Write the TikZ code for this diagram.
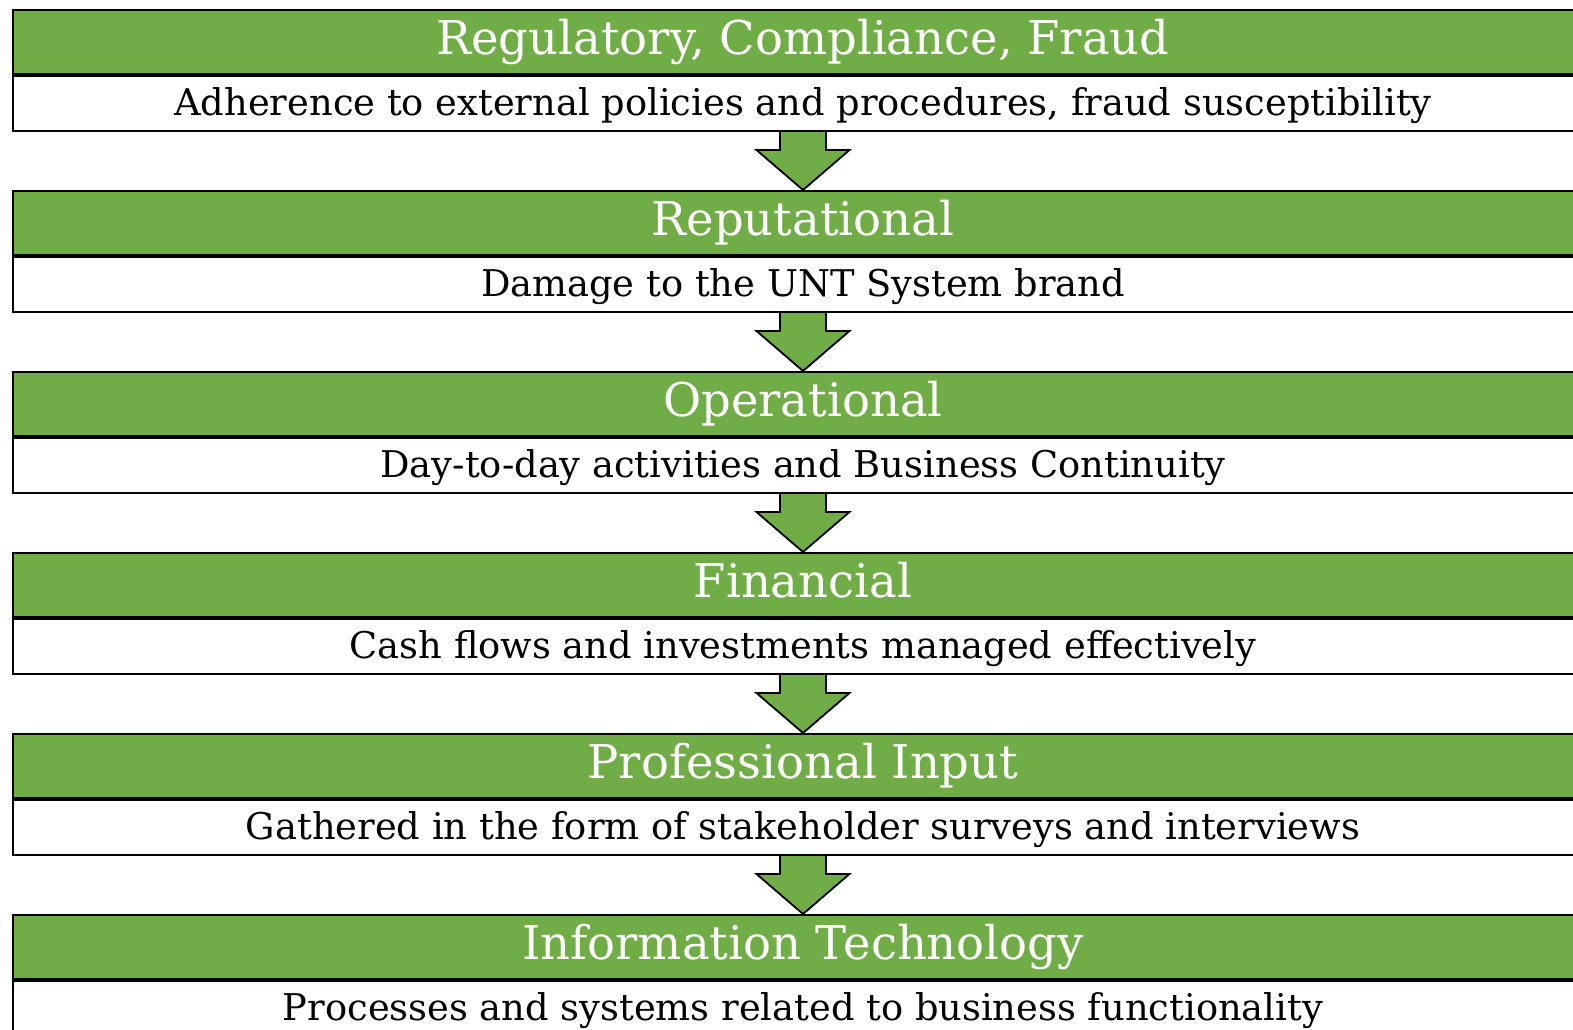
\documentclass[tikz,border=0pt]{standalone}
\usepackage{fontspec}
\setmainfont{DejaVu Serif}
\usetikzlibrary{calc,backgrounds}
\definecolor{hdrgreen}{RGB}{112,173,71}
\begin{document}
\begin{tikzpicture}[x=1pt,y=1pt,
  hdr/.style={draw=black, line width=2pt, fill=hdrgreen, minimum width=1580pt, minimum height=64pt,
    inner sep=0pt, text=white, font=\fontsize{46.5}{46.5}\selectfont, text height=33pt, text depth=9pt, anchor=north},
  body/.style={draw=black, line width=2pt, fill=white, minimum width=1580pt, minimum height=55pt,
    inner sep=0pt, text=black, font=\fontsize{36.8}{36.8}\selectfont, text height=30pt, text depth=7pt, anchor=north},
  flow/.style={draw=black, line width=1.8pt, fill=hdrgreen, line join=miter}]
\useasboundingbox (0,0) rectangle (1573,-1029);
\clip (0,0) rectangle (1573,-1029);
\foreach \i/\h/\b in {0/{Regulatory, Compliance, Fraud}/{Adherence to external policies and procedures, fraud susceptibility},
                      1/{Reputational}/{Damage to the UNT System brand},
                      2/{Operational}/{Day-to-day activities and Business Continuity},
                      3/{Financial}/{Cash flows and investments managed effectively},
                      4/{Professional Input}/{Gathered in the form of stakeholder surveys and interviews},
                      5/{Information Technology}/{Processes and systems related to business functionality}} {
  \node[hdr] (h\i) at (803,{-9-181*\i}) {\h};
  \node[body] (b\i) at (h\i.south) {\b};
}
\begin{scope}[on background layer]
\foreach \i [evaluate=\i as \j using int(\i+1)] in {0,...,4} {
  \draw[flow] ($(b\i.south)+(-23,0)$) -- ($(b\i.south)+(-23,-18)$) -- ($(b\i.south)+(-46.5,-18)$)
     -- (h\j.north) -- ($(b\i.south)+(46.5,-18)$) -- ($(b\i.south)+(23,-18)$) -- ($(b\i.south)+(23,0)$);
}
\end{scope}
\end{tikzpicture}
\end{document}
